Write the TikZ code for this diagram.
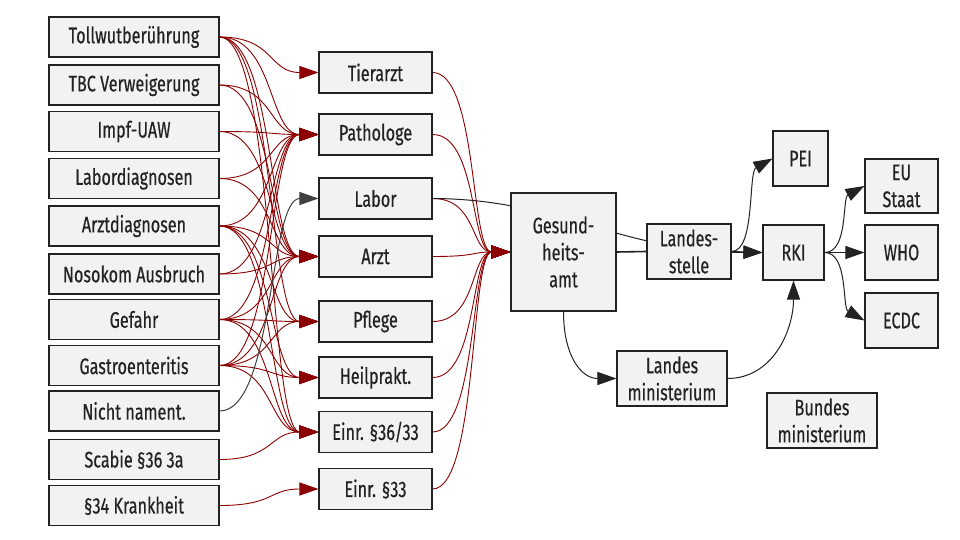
\documentclass[tikz,border=0pt]{standalone}
\usepackage{fontspec}
\setmainfont[FakeStretch=0.72,FakeBold=0.4]{Fira Sans}
\usetikzlibrary{arrows.meta,backgrounds}
\definecolor{boxfill}{HTML}{F2F2F2}
\definecolor{boxline}{HTML}{222222}
\definecolor{redline}{HTML}{8B0000}
\begin{document}
\begin{tikzpicture}[x=1pt,y=-1pt,
  box/.style={draw=boxline, line width=1.1pt, fill=boxfill, rectangle, inner sep=0pt,
    align=center, font=\fontsize{22.5}{27}\selectfont, text=boxline},
  leftbox/.style={box, minimum width=170pt, minimum height=40pt},
  midbox/.style={box, minimum width=113pt, minimum height=41pt},
  redarrow/.style={draw=redline, line width=0.9pt, -{Triangle[length=19pt,width=13pt]}},
  blackarrow/.style={draw=boxline, line width=1pt, -{Triangle[length=19pt,width=13pt]}},
  blackline/.style={draw=boxline, line width=1pt},
]
\useasboundingbox (0,0) rectangle (960,540);
% left column
\node[leftbox] (toll) at (134,37) {Tollwutberührung};
\node[leftbox] (tbc) at (134,85) {TBC Verweigerung};
\node[leftbox] (impf) at (134,131.5) {Impf-UAW};
\node[leftbox] (labd) at (134,178.5) {Labordiagnosen};
\node[leftbox] (arztd) at (134,226) {Arztdiagnosen};
\node[leftbox] (noso) at (134,274) {Nosokom Ausbruch};
\node[leftbox] (gef) at (134,319.5) {Gefahr};
\node[leftbox] (gastro) at (134,365.5) {Gastroenteritis};
\node[leftbox] (nicht) at (134,411) {Nicht nament.};
\node[leftbox] (scab) at (134,459.5) {Scabie §36 3a};
\node[leftbox] (k34) at (134,505.5) {§34 Krankheit};
% middle column
\node[midbox] (tier) at (375.5,72.5) {Tierarzt};
\node[midbox] (path) at (375.5,134.5) {Pathologe};
\node[midbox] (labor) at (375.5,198.5) {Labor};
\node[midbox] (arzt) at (375.5,256.5) {Arzt};
\node[midbox] (pfl) at (375.5,321.5) {Pflege};
\node[midbox] (heil) at (375.5,377.5) {Heilprakt.};
\node[midbox] (einr36) at (375.5,432) {Einr. §36/33};
\node[midbox] (einr33) at (375.5,489) {Einr. §33};
% right part
\node[box, minimum width=105pt, minimum height=118pt] (ga) at (563.5,252) {Gesund-\\heits-\\amt};
\node[box, minimum width=84pt, minimum height=55pt] (lst) at (689,251.5) {Landes-\\stelle};
\node[box, minimum width=110pt, minimum height=55pt] (lm) at (672,378.5) {Landes\\ministerium};
\node[box, minimum width=55pt, minimum height=55pt] (pei) at (800.5,158.5) {PEI};
\node[box, minimum width=61pt, minimum height=55pt] (rki) at (793.5,252.5) {RKI};
\node[box, minimum width=73pt, minimum height=54pt] (eu) at (901.5,186) {EU\\Staat};
\node[box, minimum width=73pt, minimum height=55pt] (who) at (901.5,252.5) {WHO};
\node[box, minimum width=73pt, minimum height=55pt] (ecdc) at (901.5,320.5) {ECDC};
\node[box, minimum width=110pt, minimum height=55pt] (bm) at (822,420.5) {Bundes\\ministerium};
\begin{pgfonlayer}{background}
\foreach \s/\t in {toll/tier, toll/path, toll/arzt, toll/pfl, toll/einr36,
  tbc/path, tbc/arzt, impf/path, impf/arzt, labd/path, labd/arzt,
  arztd/path, arztd/arzt, arztd/pfl, arztd/heil, arztd/einr36,
  noso/path, noso/arzt, gef/path, gef/arzt, gef/pfl, gef/heil, gef/einr36,
  gastro/path, gastro/arzt, gastro/pfl, gastro/heil, gastro/einr36,
  scab/einr36, k34/einr33}
  \draw[redarrow] (\s.east) .. controls +(55,0) and +(-50,0) .. (\t.west);
\draw[blackarrow, draw=black!75] (nicht.east) .. controls +(55,0) and +(-50,0) .. (labor.west);
\foreach \s in {tier,path,labor,arzt,pfl,heil,einr36,einr33}
  \draw[redarrow] (\s.east) .. controls +(45,0) and +(-40,0) .. (ga.west);
\draw[blackarrow] (labor.east) .. controls (560,199) and (620,252) .. (rki.west);
\draw[blackline, line width=1.6pt] (ga.east) -- (lst.west);
\draw[blackarrow] (lst.east) -- (rki.west);
\draw[blackarrow] (lst.east) .. controls +(24,0) and (748,172) .. (pei.west);
\draw[blackarrow] (rki.east) .. controls +(24,0) and (842,198) .. (eu.west);
\draw[blackarrow] (rki.east) -- (who.west);
\draw[blackarrow] (rki.east) .. controls +(24,0) and (842,308) .. (ecdc.west);
\draw[blackarrow] (lm.east) .. controls +(45,0) and +(0,50) .. (rki.south);
\draw[blackarrow] (ga.south) .. controls +(0,45) and +(-35,0) .. (lm.west);
\end{pgfonlayer}
\end{tikzpicture}
\end{document}
